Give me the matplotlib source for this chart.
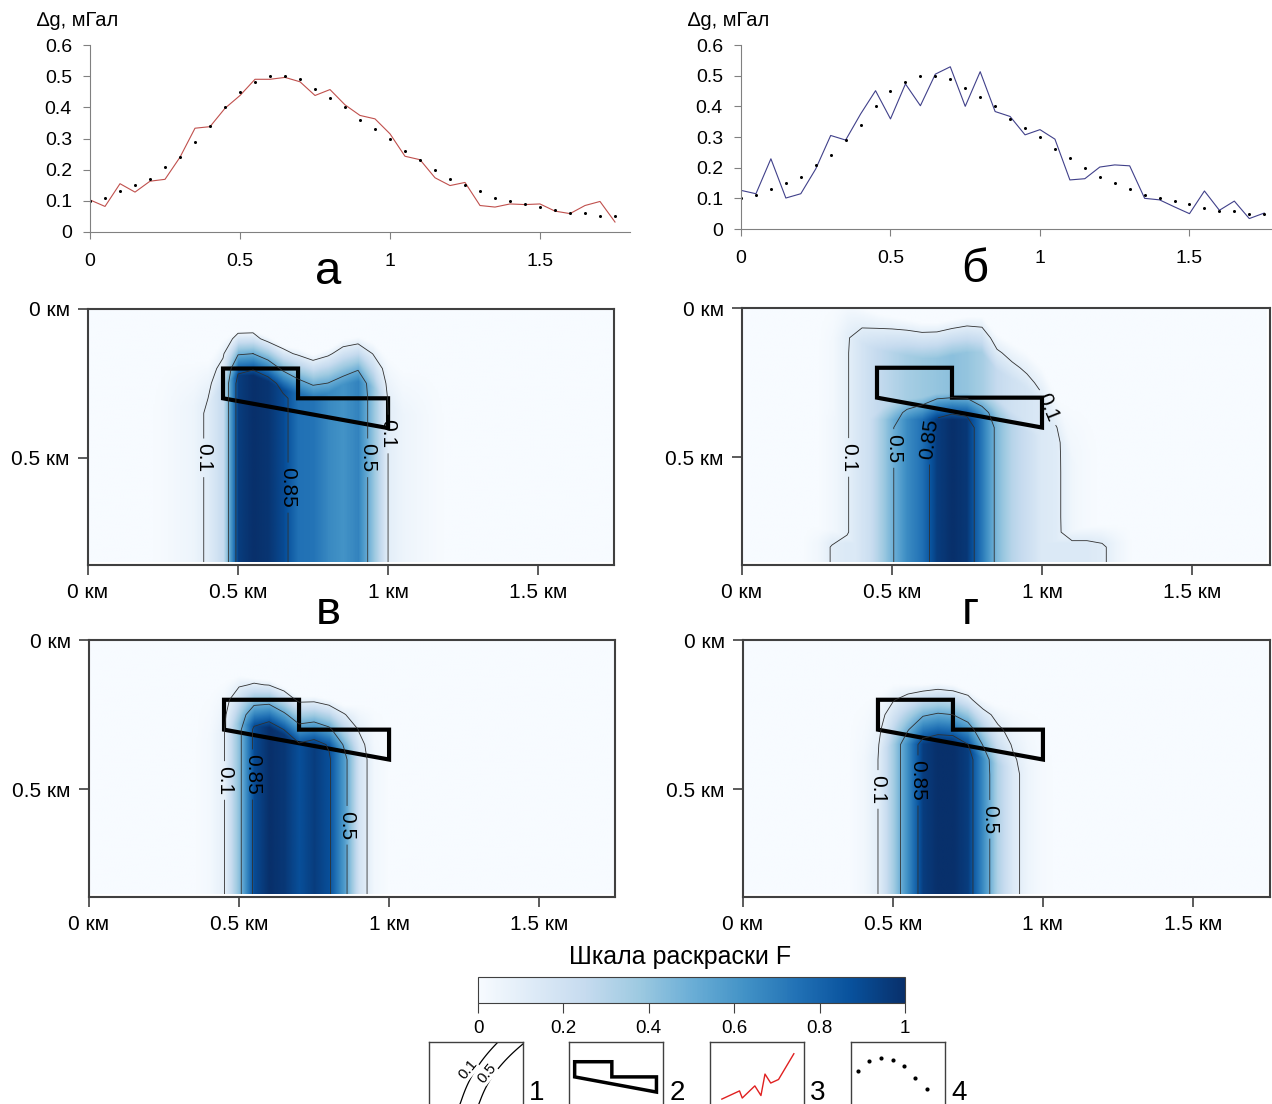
import numpy as np
import matplotlib.pyplot as plt
from matplotlib.patches import Polygon
from matplotlib.cm import ScalarMappable
from matplotlib.colors import Normalize

plt.rcParams['font.family'] = ['Liberation Sans', 'DejaVu Sans']

# --- профили аномалии силы тяжести, мГал (шаг 0.05 км)
x_prof = np.round(np.arange(0, 1.76, 0.05), 2)
dg_model = [0.10, 0.11, 0.13, 0.15, 0.17, 0.21, 0.24, 0.29, 0.34, 0.40,
            0.45, 0.48, 0.50, 0.50, 0.49, 0.46, 0.43, 0.40, 0.36, 0.33,
            0.30, 0.26, 0.23, 0.20, 0.17, 0.15, 0.13, 0.11, 0.10, 0.09,
            0.08, 0.07, 0.06, 0.06, 0.05, 0.05]
dg_a = [0.103, 0.082, 0.155, 0.128, 0.163, 0.169, 0.240, 0.333, 0.338, 0.397,
        0.438, 0.490, 0.490, 0.496, 0.482, 0.438, 0.457, 0.408, 0.374, 0.363,
        0.315, 0.243, 0.232, 0.174, 0.149, 0.159, 0.085, 0.080, 0.090, 0.088,
        0.090, 0.067, 0.059, 0.085, 0.098, 0.032]
dg_b = [0.126, 0.115, 0.229, 0.101, 0.115, 0.196, 0.305, 0.290, 0.375, 0.451,
        0.359, 0.473, 0.402, 0.505, 0.529, 0.400, 0.513, 0.383, 0.367, 0.307,
        0.324, 0.293, 0.160, 0.164, 0.202, 0.209, 0.206, 0.100, 0.095, 0.072,
        0.050, 0.124, 0.061, 0.091, 0.034, 0.052]

# --- поле F: узлы по x (км), значения в колонне и глубина кровли (км)
x_nodes = [0.20, 0.25, 0.30, 0.35, 0.40, 0.45, 0.50, 0.55, 0.60, 0.65, 0.70, 0.75,
           0.80, 0.85, 0.90, 0.95, 1.00, 1.05, 1.10, 1.15, 1.20, 1.25, 1.30]

v_F = [0, 0.01, 0.03, 0.05, 0.12, 0.25, 0.95, 1.00, 0.98, 0.90, 0.75, 0.74,
       0.66, 0.62, 0.68, 0.40, 0.10, 0.05, 0.03, 0.01, 0, 0, 0]
v_top = [0.25, 0.25, 0.25, 0.25, 0.25, 0.18, 0.15, 0.15, 0.17, 0.20, 0.21, 0.23,
         0.21, 0.18, 0.17, 0.19, 0.24, 0.28, 0.28, 0.28, 0.28, 0.28, 0.28]

g_core_F = [0, 0, 0.03, 0.07, 0.14, 0.30, 0.48, 0.65, 0.75, 0.95, 1.00, 0.97,
            0.72, 0.45, 0.30, 0.22, 0.14, 0.07, 0.03, 0.01, 0, 0, 0]
g_core_top = [0.30, 0.30, 0.30, 0.30, 0.30, 0.30, 0.30, 0.30, 0.30, 0.30, 0.30, 0.30,
              0.30, 0.30, 0.32, 0.34, 0.36, 0.38, 0.40, 0.40, 0.40, 0.40, 0.40]
g_halo_F = [0, 0, 0.02, 0.09, 0.18, 0.25, 0.30, 0.35, 0.38, 0.40, 0.42, 0.40,
            0.35, 0.25, 0.20, 0.17, 0.14, 0.12, 0.04, 0, 0, 0, 0]
g_halo_top = [0.05, 0.05, 0.05, 0.03, 0.06, 0.08, 0.09, 0.10, 0.11, 0.11, 0.10, 0.09,
              0.09, 0.15, 0.18, 0.21, 0.26, 0.36, 0.45, 0.50, 0.50, 0.50, 0.50]
g_bot_F = [0, 0.03, 0.11, 0.14, 0.14, 0.14, 0.14, 0.14, 0.14, 0.14, 0.14, 0.14,
           0.14, 0.14, 0.14, 0.14, 0.14, 0.14, 0.14, 0.14, 0.12, 0.05, 0]
g_bot_top = [0.76] * 23

bl_F = [0, 0, 0, 0, 0.02, 0.09, 0.43, 0.90, 1.00, 0.97, 0.88, 0.95,
        0.88, 0.58, 0.18, 0.03, 0, 0, 0, 0, 0, 0, 0]
bl_top = [0.25, 0.25, 0.25, 0.25, 0.25, 0.22, 0.20, 0.21, 0.215, 0.24, 0.27, 0.27,
          0.28, 0.30, 0.30, 0.30, 0.30, 0.30, 0.30, 0.30, 0.30, 0.30, 0.30]

br_F = [0, 0, 0, 0, 0.03, 0.10, 0.35, 0.65, 0.95, 1.00, 1.00, 0.95,
        0.65, 0.32, 0.14, 0.05, 0.01, 0, 0, 0, 0, 0, 0]
br_top = [0.30, 0.30, 0.30, 0.30, 0.30, 0.28, 0.25, 0.25, 0.25, 0.245, 0.25, 0.27,
          0.30, 0.32, 0.33, 0.33, 0.33, 0.33, 0.33, 0.33, 0.33, 0.33, 0.33]

# контур модельного тела
poly_x = [0.45, 0.70, 0.70, 1.00, 1.00, 0.45]
poly_z = [0.20, 0.20, 0.30, 0.30, 0.40, 0.30]

levels = [0.1, 0.5, 0.85]
cbar_ticks = [0, 0.2, 0.4, 0.6, 0.8, 1]

# образцы для условных обозначений
leg_line_x = [0.126, 0.314, 0.343, 0.477, 0.542, 0.585, 0.646, 0.729, 0.892]
leg_line_y = [0.135, 0.259, 0.151, 0.335, 0.189, 0.514, 0.378, 0.432, 0.822]
leg_dot_x = [0.072, 0.191, 0.317, 0.442, 0.568, 0.683, 0.813]
leg_dot_y = [0.568, 0.714, 0.757, 0.730, 0.632, 0.459, 0.286]

W, H = 1272, 1104
fig = plt.figure(figsize=(W / 100, H / 100), dpi=100)


def box(l, t, r, b):
    return [l / W, 1 - b / H, (r - l) / W, (b - t) / H]


def field(xs, zs, comps):
    X, Z = np.meshgrid(xs, zs)
    out = np.zeros_like(X)
    for F, top, w in comps:
        P = np.interp(X, x_nodes, F)
        T = np.interp(X, x_nodes, top)
        S = np.clip((Z - T) / w + 0.5, 0, 1)
        out = np.maximum(out, P * S)
    return out


def profile(rect, line, color, xmax):
    ax = fig.add_axes(rect)
    ax.plot(x_prof, line, color=color, lw=0.8)
    ax.plot(x_prof, dg_model, 'o', color='k', ms=2.2, mew=0)
    ax.set_xlim(0, xmax)
    ax.set_ylim(0, 0.6)
    ax.set_xticks([0, 0.5, 1, 1.5])
    ax.set_xticklabels(['0', '0.5', '1', '1.5'])
    ax.set_yticks([0, 0.1, 0.2, 0.3, 0.4, 0.5, 0.6])
    ax.set_yticklabels(['0', '0.1', '0.2', '0.3', '0.4', '0.5', '0.6'])
    for s in ['top', 'right']:
        ax.spines[s].set_visible(False)
    for s in ['left', 'bottom']:
        ax.spines[s].set_color('#808080')
    ax.tick_params(colors='#808080', labelcolor='k', labelsize=14, length=5)
    ax.tick_params(axis='x', pad=10)
    ax.tick_params(axis='y', pad=8)
    ax.patch.set_alpha(0)
    return ax


def heatmap(rect, comps, xmax, label_pos):
    ax = fig.add_axes(rect)
    xs = np.linspace(0, 1.75, 351)
    zs = np.linspace(0, 0.85, 171)
    ax.imshow(field(xs, zs, comps), extent=[0, 1.75, 0.85, 0], cmap='Blues',
              vmin=0, vmax=1, interpolation='bilinear', aspect='auto')
    xc = np.arange(0, 1.751, 0.05)
    zc = np.arange(0, 0.851, 0.05)
    cs = ax.contour(xc, zc, field(xc, zc, comps), levels=levels,
                    colors='#303030', linewidths=0.6)
    ax.clabel(cs, fmt={0.1: '0.1', 0.5: '0.5', 0.85: '0.85'}, manual=label_pos,
              inline=True, fontsize=15, colors='k')
    ax.add_patch(Polygon(np.column_stack([poly_x, poly_z]), closed=True, fill=False,
                         lw=3, ec='k', joinstyle='miter'))
    ax.set_xlim(0, xmax)
    ax.set_ylim(0.86, 0)
    ax.set_xticks([0, 0.5, 1, 1.5])
    ax.set_xticklabels(['0 км', '0.5 км', '1 км', '1.5 км'])
    ax.set_yticks([0, 0.5])
    ax.set_yticklabels(['0 км', '0.5 км'])
    for s in ax.spines.values():
        s.set_color('#404040')
        s.set_linewidth(1.5)
    ax.tick_params(colors='#404040', labelcolor='k', labelsize=15, length=7, width=1.2, pad=6)
    return ax


profile(box(90, 45, 630, 232), dg_a, '#c0504d', 1.8)
profile(box(741, 45, 1272, 229), dg_b, '#40408a', 1.776)
fig.text(37 / W, 1 - 21 / H, '∆g, мГал', fontsize=14.5, va='center')
fig.text(688 / W, 1 - 21 / H, '∆g, мГал', fontsize=14.5, va='center')

heatmap(box(88, 309, 614, 565), [(v_F, v_top, 0.15)], 1.753,
        [(0.39, 0.5), (0.67, 0.6), (0.925, 0.5), (1.0, 0.42)])
heatmap(box(742, 308, 1270, 565),
        [(g_core_F, g_core_top, 0.15), (g_halo_F, g_halo_top, 0.12), (g_bot_F, g_bot_top, 0.06)],
        1.76, [(0.36, 0.5), (0.51, 0.47), (0.62, 0.44), (1.03, 0.33)])
heatmap(box(89, 640, 615, 897), [(bl_F, bl_top, 0.16)], 1.753,
        [(0.45, 0.47), (0.54, 0.45), (0.86, 0.62)])
heatmap(box(743, 640, 1270, 897), [(br_F, br_top, 0.2)], 1.757,
        [(0.45, 0.5), (0.576, 0.47), (0.82, 0.6)])

for txt, x, y in [('а', 328, 272), ('б', 975, 270), ('в', 328, 612), ('г', 970, 612)]:
    fig.text(x / W, 1 - y / H, txt, fontsize=34, ha='center', va='center')

# шкала
cax = fig.add_axes(box(478, 977, 905, 1003))
cb = fig.colorbar(ScalarMappable(Normalize(0, 1), 'Blues'), cax=cax, orientation='horizontal')
cb.set_ticks(cbar_ticks)
cb.set_ticklabels(['0', '0.2', '0.4', '0.6', '0.8', '1'])
cb.outline.set_edgecolor('#404040')
cax.tick_params(labelsize=13.5, length=7, colors='#404040', labelcolor='k', pad=5)
fig.text(680 / W, 1 - 957 / H, 'Шкала раскраски F', fontsize=18, ha='center', va='center')

# условные обозначения
lefts = [429, 569, 710, 851]
legs = []
for i, l in enumerate(lefts):
    la = fig.add_axes(box(l, 1042, l + 94, 1108))
    la.set_xticks([])
    la.set_yticks([])
    for s in la.spines.values():
        s.set_color('#404040')
        s.set_linewidth(1.0)
    legs.append(la)
    fig.text((l + 108) / W, 1 - 1093 / H, str(i + 1), fontsize=20, ha='center', va='center')

la = legs[0]
la.set_xlim(0, 1)
la.set_ylim(0, 1)
t = np.linspace(0, 1, 30)
la.plot(0.3 + 0.12 * t ** 0.5 + 0.35 * t ** 2, 0.0 + 1.05 * t, color='k', lw=0.9)
la.plot(0.5 + 0.12 * t ** 0.5 + 0.45 * t ** 2, 0.0 + 1.05 * t, color='k', lw=0.9)
la.text(0.42, 0.58, '0.1', rotation=50, fontsize=11, ha='center', va='center',
        bbox=dict(fc='white', ec='none', pad=0))
la.text(0.62, 0.52, '0.5', rotation=50, fontsize=11, ha='center', va='center',
        bbox=dict(fc='white', ec='none', pad=0))

la = legs[1]
la.set_xlim(0.412, 1.044)
la.set_ylim(0.505, 0.07)
la.add_patch(Polygon(np.column_stack([poly_x, poly_z]), closed=True, fill=False,
                     lw=2.5, ec='k', joinstyle='miter'))

la = legs[2]
la.set_xlim(0, 1)
la.set_ylim(0, 1)
la.plot(leg_line_x, leg_line_y, color='#e02020', lw=1.0)

la = legs[3]
la.set_xlim(0, 1)
la.set_ylim(0, 1)
la.plot(leg_dot_x, leg_dot_y, 'o', color='k', ms=3, mew=0)

fig.savefig('out.png', dpi=100)
